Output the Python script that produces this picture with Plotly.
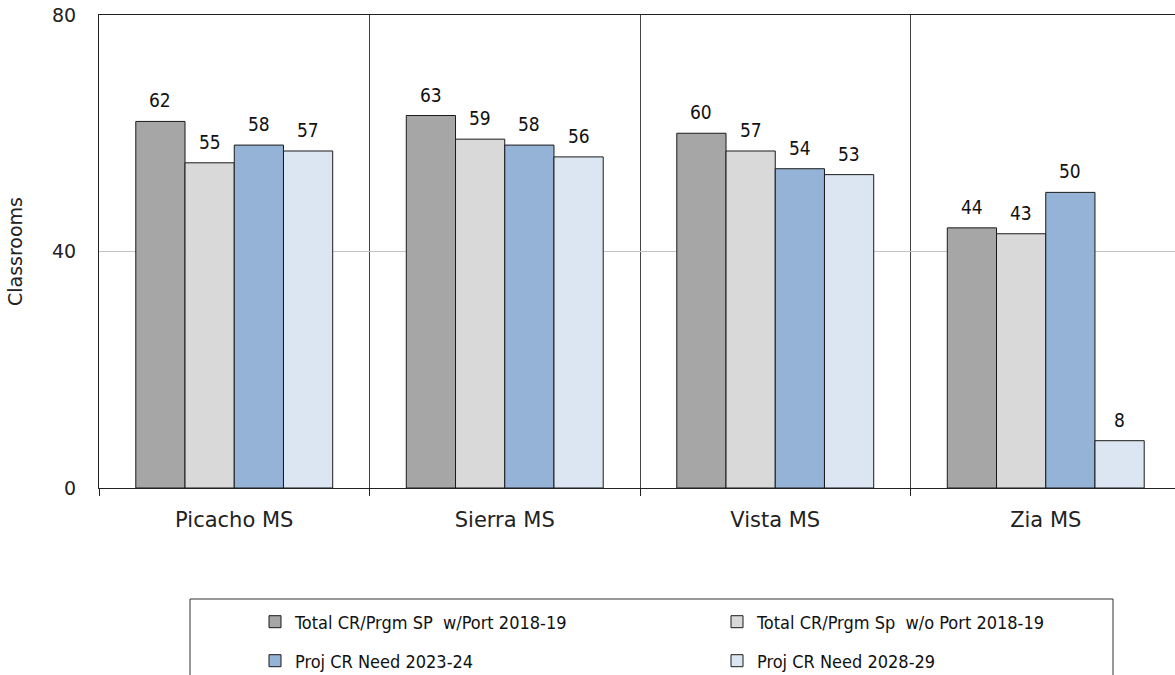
import plotly.graph_objects as go

# Classroom capacity and projected need by middle school
schools = ["Picacho MS", "Sierra MS", "Vista MS", "Zia MS"]
series_names = [
    "Total CR/Prgm SP\u00a0\u00a0w/Port 2018-19",
    "Total CR/Prgm Sp\u00a0\u00a0w/o Port 2018-19",
    "Proj CR Need 2023-24",
    "Proj CR Need 2028-29",
]
with_port_2018 = [62, 63, 60, 44]
without_port_2018 = [55, 59, 57, 43]
need_2023 = [58, 58, 54, 50]
need_2028 = [57, 56, 53, 8]
series_values = [with_port_2018, without_port_2018, need_2023, need_2028]
colors = ["#a6a6a6", "#d9d9d9", "#95b3d7", "#dce6f2"]
y_ticks = [0, 40, 80]

LABEL_FONT = "Liberation Sans Narrow, Arial Narrow, DejaVu Sans Condensed, sans-serif"
AXIS_FONT = "DejaVu Sans, sans-serif"

W, H = 1175, 675
ML, MT, MB, MR = 99, 15, 187, 0
plot_w = W - ML - MR
plot_h = H - MT - MB
cat_px = 270.5  # pixel width of one school slot
group_frac = 0.728
bar_w = group_frac / len(series_names)

x_pos = list(range(len(schools)))


def px_x(p):
    return (p - ML) / plot_w


def px_y(p):
    return (MT + plot_h - p) / plot_h


# legend entries: two columns, two rows
legend_ids = ["legend", "legend2", "legend3", "legend4"]
legend_cols = [255, 717, 255, 717]
legend_rows = [622, 622, 661, 661]

fig = go.Figure()
for i, (name, vals, col) in enumerate(zip(series_names, series_values, colors)):
    fig.add_trace(go.Bar(
        x=x_pos, y=vals, name=name,
        marker=dict(color=col, line=dict(color="#1a1a1a", width=1)),
        legend=legend_ids[i], showlegend=True,
        hoverinfo="skip",
    ))

# value labels above each bar
annotations = []
for i, vals in enumerate(series_values):
    off = (-1.5 + i) * bar_w
    for xi, v in zip(x_pos, vals):
        annotations.append(dict(
            x=xi + off, y=v, xref="x", yref="y", text=str(v),
            showarrow=False, yanchor="bottom", yshift=8,
            font=dict(family=LABEL_FONT, size=19, color="#111"),
        ))

legend_layout = {}
for lid, lx, ly in zip(legend_ids, legend_cols, legend_rows):
    legend_layout[lid] = dict(
        orientation="h", x=px_x(lx), xanchor="left", y=px_y(ly), yanchor="middle",
        font=dict(family=LABEL_FONT, size=18, color="#111"),
        bgcolor="rgba(0,0,0,0)", borderwidth=0, visible=True,
    )

fig.update_layout(
    width=W, height=H, showlegend=True,
    margin=dict(l=ML, r=MR, t=MT, b=MB, autoexpand=False),
    paper_bgcolor="white", plot_bgcolor="white",
    barmode="group", bargap=1 - group_frac, bargroupgap=0,
    annotations=annotations,
    xaxis=dict(
        range=[-0.5, -0.5 + plot_w / cat_px],
        tickmode="array", tickvals=x_pos, ticktext=schools,
        ticks="", showgrid=False, zeroline=False,
        showline=True, linecolor="#222", linewidth=1, mirror=True,
        tickfont=dict(family=AXIS_FONT, size=21, color="#222"),
        ticklabelstandoff=13,
        minor=dict(
            tickmode="array", tickvals=[-0.5, 0.5, 1.5, 2.5, 3.5],
            showgrid=True, gridcolor="#444", gridwidth=1,
            ticks="outside", ticklen=7, tickcolor="#222", tickwidth=1,
        ),
    ),
    yaxis=dict(
        range=[0, 80], tickmode="array", tickvals=y_ticks,
        showgrid=True, gridcolor="#c4c4c4", gridwidth=1, zeroline=False,
        showline=True, linecolor="#222", linewidth=1, ticks="",
        ticklabelstandoff=18,
        tickfont=dict(family=AXIS_FONT, size=19, color="#222"),
        title=dict(text="Classrooms", standoff=24,
                   font=dict(family=AXIS_FONT, size=19, color="#222")),
    ),
    shapes=[dict(
        type="rect", xref="paper", yref="paper",
        x0=px_x(190), x1=px_x(1113), y0=px_y(599), y1=px_y(720),
        line=dict(color="#333", width=1), fillcolor="rgba(0,0,0,0)", layer="below",
    )],
    **legend_layout,
)

fig.write_html("out.html")
